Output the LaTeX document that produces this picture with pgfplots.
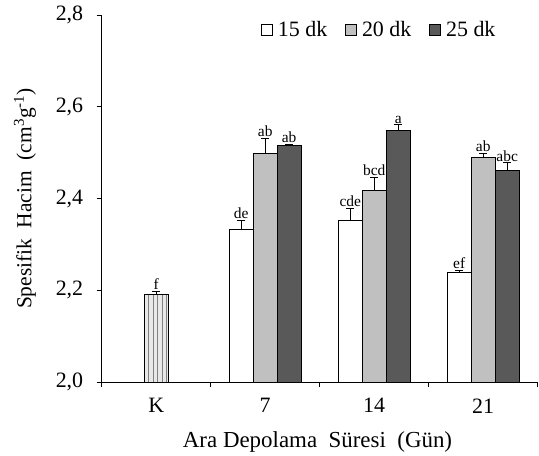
\documentclass[border=0pt]{standalone}
\usepackage{fontspec}
\setmainfont{Liberation Serif}
\usepackage{pgfplots}
\pgfplotsset{compat=1.18}
\usepackage{pgfplotstable}
\usetikzlibrary{patterns.meta}

\definecolor{barK}{RGB}{232,232,232}
\definecolor{barmid}{RGB}{192,192,192}
\definecolor{bardark}{RGB}{89,89,89}

% kontrol (K)
\pgfplotstableread{
x y err lab
0 2.190 0.008 f
}\ktable
% 15 dk
\pgfplotstableread{
x y err lab
1 2.332 0.020 de
2 2.352 0.027 cde
3 2.238 0.006 ef
}\dkA
% 20 dk
\pgfplotstableread{
x y err lab
1 2.499 0.032 ab
2 2.418 0.028 bcd
3 2.490 0.008 ab
}\dkB
% 25 dk
\pgfplotstableread{
x y err lab
1 2.515 0.004 ab
2 2.548 0.013 a
3 2.462 0.016 abc
}\dkC

\pgfplotsset{
  mybar/.style={ybar, bar width=0.22, bar shift=0pt, draw=black, line width=0.8bp,
    legend image code/.code={\draw[##1, line width=0.8bp] (0bp,-5.5bp) rectangle (11bp,5.5bp);},
    error bars/y dir=plus, error bars/y explicit,
    error bars/error bar style={black, line width=0.8bp},
    error bars/error mark options={black, rotate=90, mark size=4bp, line width=0.8bp}},
  mylab/.style={draw=none, mark=none, forget plot, nodes near coords,
    point meta=explicit symbolic,
    every node near coord/.append style={font=\fontsize{15.5}{17}\selectfont, inner sep=1.2bp, black}},
}

\begin{document}
\begin{tikzpicture}
\begin{axis}[
  scale only axis, width=436bp, height=367bp,
  xmin=-0.5, xmax=3.5, ymin=2, ymax=2.8,
  axis lines=left, axis line style={-, line width=0.8bp, black},
  xtick={0,1,2,3}, xticklabels={K,7,14,21},
  minor xtick={-0.5,0.5,1.5,2.5,3.5},
  major x tick style={draw=none},
  ytick={2.0,2.2,2.4,2.6,2.8},
  tick align=outside,
  major tick length=5bp, minor tick length=5bp,
  tick style={black, line width=0.8bp},
  tick label style={font=\fontsize{22}{26}\selectfont},
  xticklabel style={yshift=-8bp},
  yticklabel style={xshift=-10bp, /pgf/number format/.cd, use comma, fixed, fixed zerofill, precision=1, assume math mode=true},
  xlabel={Ara Depolama\ \ Süresi\ \ (Gün)},
  ylabel={Spesifik\ \ Hacim\ \ (cm\textsuperscript{3}g\textsuperscript{-1})},
  xlabel style={font=\fontsize{23}{27}\selectfont, at={(axis description cs:0.495,-0.163)}, anchor=center},
  ylabel style={font=\fontsize{21.5}{25}\selectfont, at={(axis description cs:-0.176,0.5)}, anchor=center},
  legend columns=3,
  legend style={draw=none, fill=none, at={(axis description cs:0.915,0.959)}, anchor=east,
    font=\fontsize{22}{26}\selectfont,
    /tikz/every odd column/.append style={column sep=3bp},
    /tikz/every even column/.append style={column sep=16bp}},
  clip=false,
]
\addplot[mybar, fill=barK, forget plot,
  postaction={pattern={Lines[angle=90, distance=4.5bp, line width=0.7bp]}, pattern color=gray}]
  table[x=x, y=y, y error=err]{\ktable};
\addplot[mybar, fill=white] table[x expr=\thisrow{x}-0.22, y=y, y error=err]{\dkA};
\addlegendentry{15 dk}
\addplot[mybar, fill=barmid] table[x=x, y=y, y error=err]{\dkB};
\addlegendentry{20 dk}
\addplot[mybar, fill=bardark] table[x expr=\thisrow{x}+0.22, y=y, y error=err]{\dkC};
\addlegendentry{25 dk}

\addplot[mylab] table[x=x, y expr=\thisrow{y}+\thisrow{err}, meta=lab]{\ktable};
\addplot[mylab] table[x expr=\thisrow{x}-0.22, y expr=\thisrow{y}+\thisrow{err}, meta=lab]{\dkA};
\addplot[mylab] table[x=x, y expr=\thisrow{y}+\thisrow{err}, meta=lab]{\dkB};
\addplot[mylab] table[x expr=\thisrow{x}+0.22, y expr=\thisrow{y}+\thisrow{err}, meta=lab]{\dkC};
\end{axis}
\path (current axis.south west) ++(-101.7bp,-72bp) rectangle ++(539bp,454bp);
\end{tikzpicture}
\end{document}
